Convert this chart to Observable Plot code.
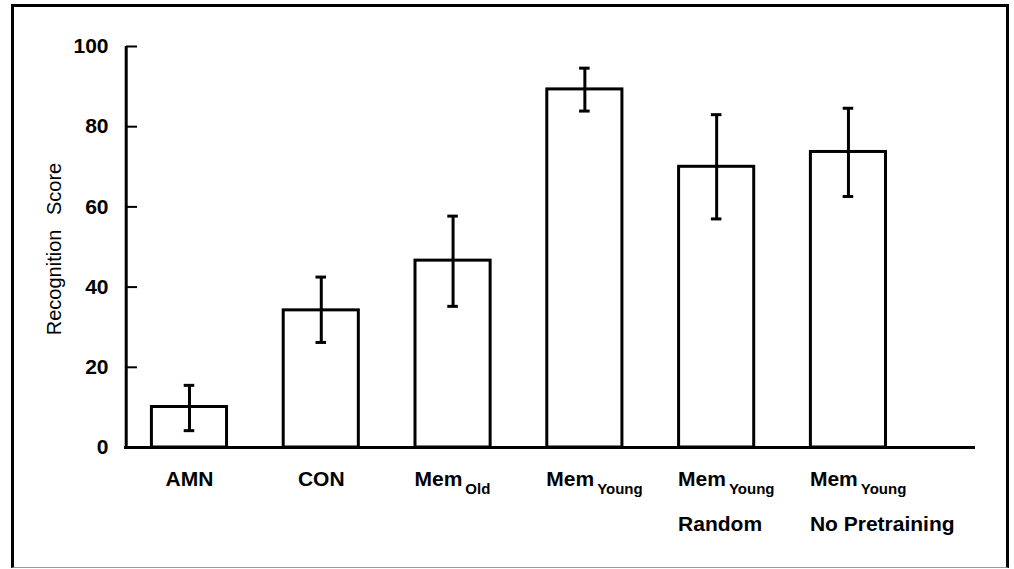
<!DOCTYPE html>
<html>
<head>
<meta charset="utf-8">
<script src="https://cdn.jsdelivr.net/npm/d3@7"></script>
<script src="https://cdn.jsdelivr.net/npm/@observablehq/plot@0.6"></script>
<style>
  html, body { margin: 0; padding: 0; background: #fff; }
  #wrap { position: relative; width: 1014px; height: 569px; overflow: hidden; }
  #border { position: absolute; left: 11px; top: 4px; width: 998px; height: 564px; box-sizing: border-box;
            border: 3px solid #000; border-bottom: 1.5px solid #9a9a9a; pointer-events: none; }
  svg { font-family: "Liberation Sans", Arial, Helvetica, sans-serif; }
</style>
</head>
<body>
<div id="wrap"><div id="chart"></div><div id="border"></div></div>
<script>
// ---- data ----
const categories = ["AMN", "CON", "MemOld", "MemYoung", "MemYoungRandom", "MemYoungNoPretraining"];
const means      = [10.1, 34.2, 46.6, 89.3, 70.0, 73.7];
const errLow     = [4.2, 26.2, 35.2, 83.9, 57.0, 62.6];
const errHigh    = [15.5, 42.5, 57.7, 94.6, 83.0, 84.6];
const labelMain  = ["AMN", "CON", "Mem", "Mem", "Mem", "Mem"];
const labelSub   = ["", "", "Old", "Young", "Young", "Young"];
const labelLine2 = ["", "", "", "", "Random", "No Pretraining"];
const yTicks     = [0, 20, 40, 60, 80, 100];
const yTitle     = "Recognition Score";

const table = categories.map((c, i) => ({
  cat: c, i, mean: means[i], lo: errLow[i], hi: errHigh[i],
  main: labelMain[i], sub: labelSub[i], line2: labelLine2[i]
}));
const plain = table.filter(d => !d.sub);
const withSub = table.filter(d => d.sub);
const withLine2 = table.filter(d => d.line2);

const W = 1014, H = 569, mL = 124, mR = 39, mT = 46, mB = 122;
const frameW = W - mL - mR;
const xDomain = [-0.493, 5.964];
const pxPerX = frameW / (xDomain[1] - xDomain[0]);
const halfBar = 0.285, halfCap = 0.04;
const titleX = xDomain[0] - (mL - 54) / pxPerX;

const chart = Plot.plot({
  width: W, height: H,
  marginLeft: mL, marginRight: mR, marginTop: mT, marginBottom: mB,
  style: { background: "transparent", fontFamily: "'Liberation Sans', Arial, sans-serif" },
  x: { type: "linear", domain: xDomain, axis: null },
  y: { domain: [0, 100], axis: null },
  marks: [
    Plot.rectY(table, { x1: d => d.i - halfBar, x2: d => d.i + halfBar, y1: 0, y2: "mean",
      fill: "white", stroke: "black", strokeWidth: 3 }),
    Plot.ruleX(table, { x: "i", y1: "lo", y2: "hi", stroke: "black", strokeWidth: 3 }),
    Plot.ruleY(table, { y: "hi", x1: d => d.i - halfCap, x2: d => d.i + halfCap, stroke: "black", strokeWidth: 3 }),
    Plot.ruleY(table, { y: "lo", x1: d => d.i - halfCap, x2: d => d.i + halfCap, stroke: "black", strokeWidth: 3 }),
    Plot.ruleY([0], { stroke: "black", strokeWidth: 3 }),
    Plot.ruleX([-0.48], { y1: 0, y2: 100, stroke: "black", strokeWidth: 3 }),
    Plot.tickY(yTicks, { y: d => d, insetLeft: 2, insetRight: frameW - 13, stroke: "black", strokeWidth: 2 }),
    // text mark 0: y tick labels
    Plot.text(yTicks, { y: d => d, text: d => String(d), frameAnchor: "left", textAnchor: "end", dx: -16,
      fontSize: 21, fontWeight: "bold", fill: "black" }),
    // text mark 1: y title
    Plot.text([yTitle], { x: () => titleX, y: () => 49.5, text: d => d, rotate: -90,
      fontSize: 20, fill: "black" }),
    // text mark 2: plain x labels (centred)
    Plot.text(plain, { x: "i", y: 0, text: "main", dy: 38, lineAnchor: "bottom", textAnchor: "middle",
      fontSize: 21, fontWeight: "bold", fill: "black" }),
    // text mark 3: x labels with subscript (start at bar left)
    Plot.text(withSub, { x: d => d.i - halfBar, y: 0, text: "main", dy: 38, dx: -1, lineAnchor: "bottom", textAnchor: "start",
      fontSize: 21, fontWeight: "bold", fill: "black" }),
    // text mark 4: x labels line 2
    Plot.text(withLine2, { x: d => d.i - halfBar, y: 0, text: "line2", dy: 83, dx: -1, lineAnchor: "bottom", textAnchor: "start",
      fontSize: 21, fontWeight: "bold", fill: "black" })
  ]
});

document.getElementById("chart").appendChild(chart);

const textGroups = d3.select(chart).selectAll('g[aria-label="text"]').nodes();
d3.select(textGroups[1]).selectAll("text").style("word-spacing", "9px");
d3.select(textGroups[3]).selectAll("text").nodes().forEach((node, k) => {
  d3.select(node).append("tspan").attr("dy", 8).attr("dx", 3).attr("font-size", 15).text(withSub[k].sub);
});
</script>
</body>
</html>
